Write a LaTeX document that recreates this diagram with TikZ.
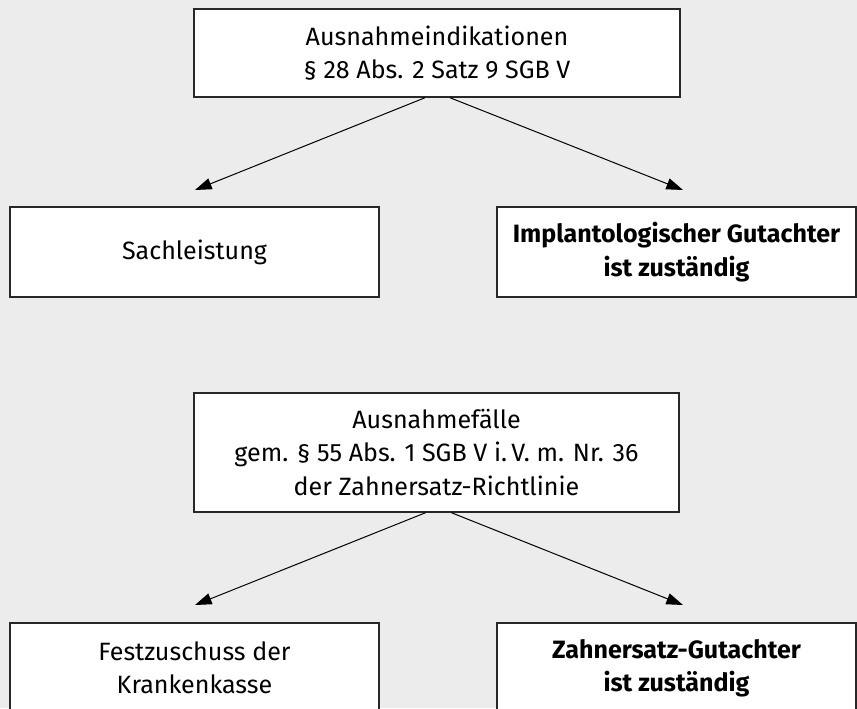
\documentclass[tikz,border=0pt]{standalone}
\usepackage{fontspec}
\setmainfont{Fira Sans}
\usetikzlibrary{positioning,arrows.meta,calc}
\definecolor{BgGray}{RGB}{236,236,236}
\definecolor{Frame}{RGB}{40,40,40}
\tikzset{
	box/.style={rectangle, draw=Frame, line width=1.1pt, fill=white, align=center, inner sep=0pt,
		font=\fontsize{18.8pt}{25pt}\selectfont, minimum width=#1, minimum height=67.5pt},
	head/.style={box=#1, minimum height=66pt},
	conn/.style={-{Triangle[length=12.5pt,width=8.5pt]}, line width=0.75pt, draw=black},
}

\begin{document}
\begin{tikzpicture}[x=0.75pt,y=-0.75pt]
	\useasboundingbox (0,0) rectangle (857,708);
	\clip (0,0) rectangle (857,708);
	\fill [BgGray] (0,0) rectangle (857,708);
	% first case
	\node (indik) [head=364.5pt] at (437,53) {Ausnahmeindikationen\\ \S\ 28 Abs. 2 Satz 9 SGB V};
	\node (sach) [box=276.75pt] at (194.5,252) {Sachleistung};
	\node (impl) [box=269.25pt] at (676.5,252) {\bfseries Implantologischer Gutachter\\ \bfseries ist zuständig};
	% second case
	\node (faelle) [head=363.75pt, minimum height=89.25pt] at (436.5,452.5) {Ausnahmefälle\\ gem. \S\ 55 Abs. 1 SGB V i.\,V. m. Nr. 36\\ der Zahnersatz-Richtlinie};
	\node (fest) [box=276.75pt] at (194.5,668) {Festzuschuss der\\ Krankenkasse};
	\node (zahn) [box=269.25pt] at (676.5,668) {\bfseries Zahnersatz-Gutachter\\ \bfseries ist zuständig};
	\coordinate (a1) at (195,190);
	\coordinate (a2) at (683,190);
	\coordinate (b1) at (195,605);
	\coordinate (b2) at (683,605);
	\draw [conn] ($(indik.south)+(-12,0)$) -- (a1);
	\draw [conn] ($(indik.south)+(13,0)$) -- (a2);
	\draw [conn] ($(faelle.south)+(-11,0)$) -- (b1);
	\draw [conn] ($(faelle.south)+(15,0)$) -- (b2);
\end{tikzpicture}
\end{document}
